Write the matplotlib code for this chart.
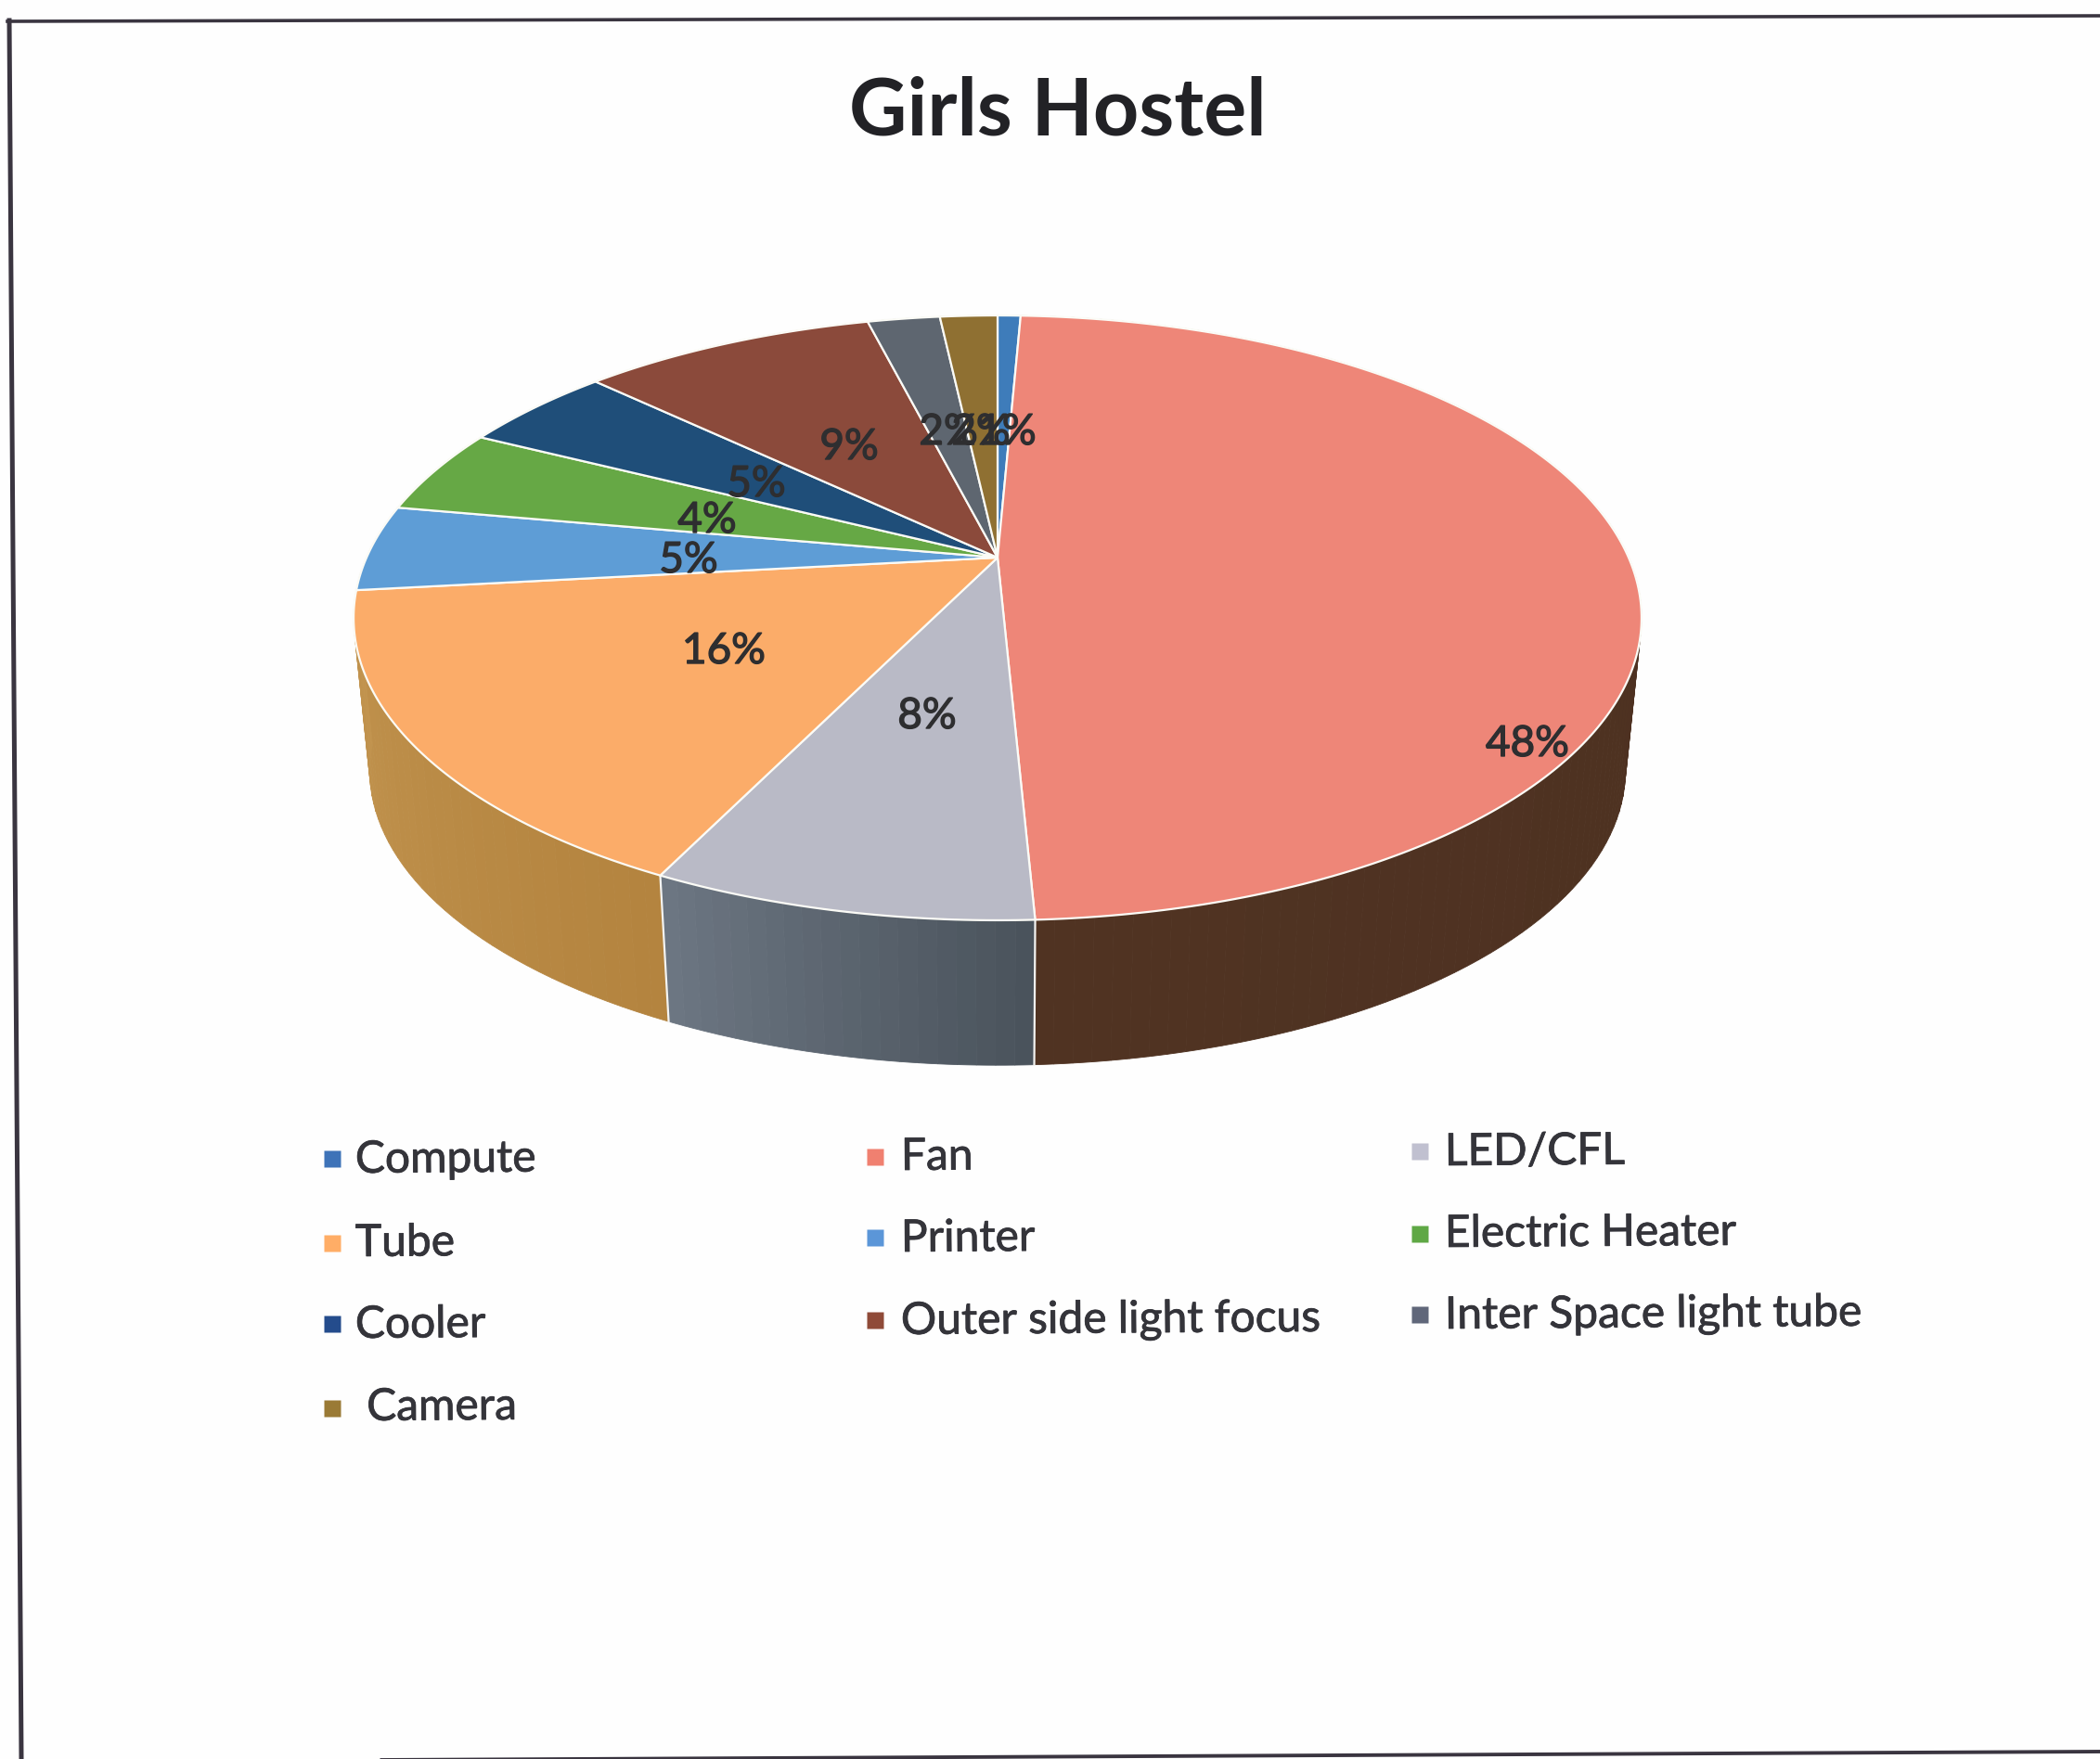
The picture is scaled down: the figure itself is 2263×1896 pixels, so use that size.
"""Girls Hostel 3D pie, drawn on a canvas in image pixels."""

import numpy as np
import matplotlib
matplotlib.use("Agg")
import matplotlib.pyplot as plt
import matplotlib.patheffects as pe
from matplotlib.colors import to_rgb
from matplotlib.patches import Polygon

W, H = 2263, 1896

CATEGORIES = ["Compute", "Fan", "LED/CFL", "Tube", "Printer", "Electric Heater",
              "Cooler", "Outer side light focus", "Inter Space light tube", " Camera"]
VALUES = [0.7, 48.54, 7.99, 16.02, 4.6, 4.6, 4.65, 8.95, 2.2, 1.75]
PCT_LABELS = ["1%", "48%", "8%", "16%", "5%", "4%", "5%", "9%", "2%", "2%"]

TOP_COLORS = ["#3E7CBA", "#EE8678", "#B9BAC6", "#FBAC69", "#5E9DD6",
              "#66A845", "#1F4E79", "#8B4A3B", "#5E6670", "#8F7032"]
WALL_START = ["#2A5480", "#4A2F20", "#4A535C", "#B4843F", "#C2944F",
              "#44722F", "#153552", "#5E3228", "#40464C", "#614C22"]
WALL_END = ["#2A5480", "#503322", "#6C7682", "#C2944F", "#C2944F",
            "#44722F", "#153552", "#5E3228", "#40464C", "#614C22"]
MARKER_COLORS = ["#3E73B8", "#F08070", "#C0C0D0", "#FFAD66", "#5B96D8",
                 "#5FA845", "#244C8C", "#8F4A38", "#60677A", "#9A7A35"]

# where things sit on the page, in pixels
PCT_XY = [(1085, 466), (1646, 802), (999, 772), (780, 702), (742, 604),
          (762, 561), (815, 522), (915, 482), (1022, 466), (1057, 466)]
MARKER_XY = [(358, 1249), (943, 1247), (1530, 1241), (358, 1340), (943, 1334),
             (1530, 1330), (358, 1427), (943, 1423), (1530, 1417), (358, 1518)]
TEXT_XY = [(383, 1264), (971, 1261), (1557, 1256), (383, 1354), (971, 1349),
           (1557, 1344), (383, 1442), (971, 1438), (1557, 1432), (383, 1531)]

CX, CY = 1075, 601
RX, RY = 680, 313
PERSP = 0.1994
BASE_SCALE = 0.975
BASE_DROP = 166

COLOR_TEXT = "#34343A"
COLOR_FRAME = "#3A3540"

plt.rcParams["font.family"] = ["Lato", "DejaVu Sans"]


def project(theta, scale=1.0, drop=0.0):
    # theta runs clockwise from the far side of the pie
    x, y = np.sin(theta), np.cos(theta)
    d = 1 + PERSP * y
    return CX + scale * RX * x / d, CY - scale * RY * y / d + drop


def arc(t0, t1, **kw):
    n = max(int(abs(t1 - t0) * 90), 3)
    px, py = project(np.linspace(t0, t1, n), **kw)
    return np.column_stack([px, py])


def draw_wall(ax, t0, t1, c0, c1):
    c0, c1 = np.array(to_rgb(c0)), np.array(to_rgb(c1))
    edges = np.linspace(t0, t1, max(int((t1 - t0) * 40), 2) + 1)
    for i in range(len(edges) - 1):
        f = i / max(len(edges) - 2, 1)
        col = tuple(c0 + (c1 - c0) * f)
        top = arc(edges[i], edges[i + 1])
        bot = arc(edges[i + 1], edges[i], scale=BASE_SCALE, drop=BASE_DROP)
        ax.add_patch(Polygon(np.vstack([top, bot]), closed=True, facecolor=col,
                             edgecolor=col, linewidth=0.6, zorder=2))


fig = plt.figure(figsize=(W / 100, H / 100), dpi=100, facecolor="#FEFEFE")
ax = fig.add_axes([0, 0, 1, 1])
ax.set_xlim(0, W)
ax.set_ylim(H, 0)
ax.axis("off")

# scanned page frame
ax.plot([10, 23], [22, H], color=COLOR_FRAME, lw=3.6, zorder=1)
ax.plot([8, W], [23, 17], color=COLOR_FRAME, lw=2.6, zorder=1)
ax.plot([0, W], [1899, 1888], color=COLOR_FRAME, lw=2.8, zorder=1)

cum = np.cumsum([0] + VALUES)
angles = cum / cum[-1] * 2 * np.pi

# far walls first so the front ones cover them
mids = (angles[:-1] + angles[1:]) / 2
for i in np.argsort(-np.cos(mids)):
    draw_wall(ax, angles[i], angles[i + 1], WALL_START[i], WALL_END[i])

# white seams down the visible wall
for t in angles:
    if np.cos(t) < -0.3:
        x0, y0 = project(t)
        x1, y1 = project(t, scale=BASE_SCALE, drop=BASE_DROP)
        ax.plot([x0, x1], [y0, y1], color="#F4F4F2", lw=1.6, zorder=3)

for i in range(len(VALUES)):
    pts = np.vstack([[CX, CY], arc(angles[i], angles[i + 1])])
    ax.add_patch(Polygon(pts, closed=True, facecolor=TOP_COLORS[i], edgecolor="#FBFBF6",
                         linewidth=1.6, joinstyle="round", zorder=4))

for lab, (x, y) in zip(PCT_LABELS, PCT_XY):
    t = ax.text(x, y, lab, fontsize=33, color="#2E2E30",
                ha="center", va="center", zorder=6)
    t.set_path_effects([pe.withStroke(linewidth=1.0, foreground="#2E2E30")])

t = ax.text(1140, 121, "Girls Hostel", fontsize=62, fontweight="bold", color="#222226",
            ha="center", va="center", zorder=6)

for name, col, (mx, my), (tx, ty) in zip(CATEGORIES, MARKER_COLORS, MARKER_XY, TEXT_XY):
    ax.plot([mx], [my], marker="s", ms=13.5, mfc=col, mec="none", ls="none", zorder=6)
    t = ax.text(tx, ty, name, fontsize=34.5, color=COLOR_TEXT, ha="left", va="baseline",
                rotation=0.4, rotation_mode="anchor", zorder=6)
    t.set_path_effects([pe.withStroke(linewidth=0.6, foreground=COLOR_TEXT)])

fig.savefig("out.png", dpi=100, facecolor=fig.get_facecolor())
